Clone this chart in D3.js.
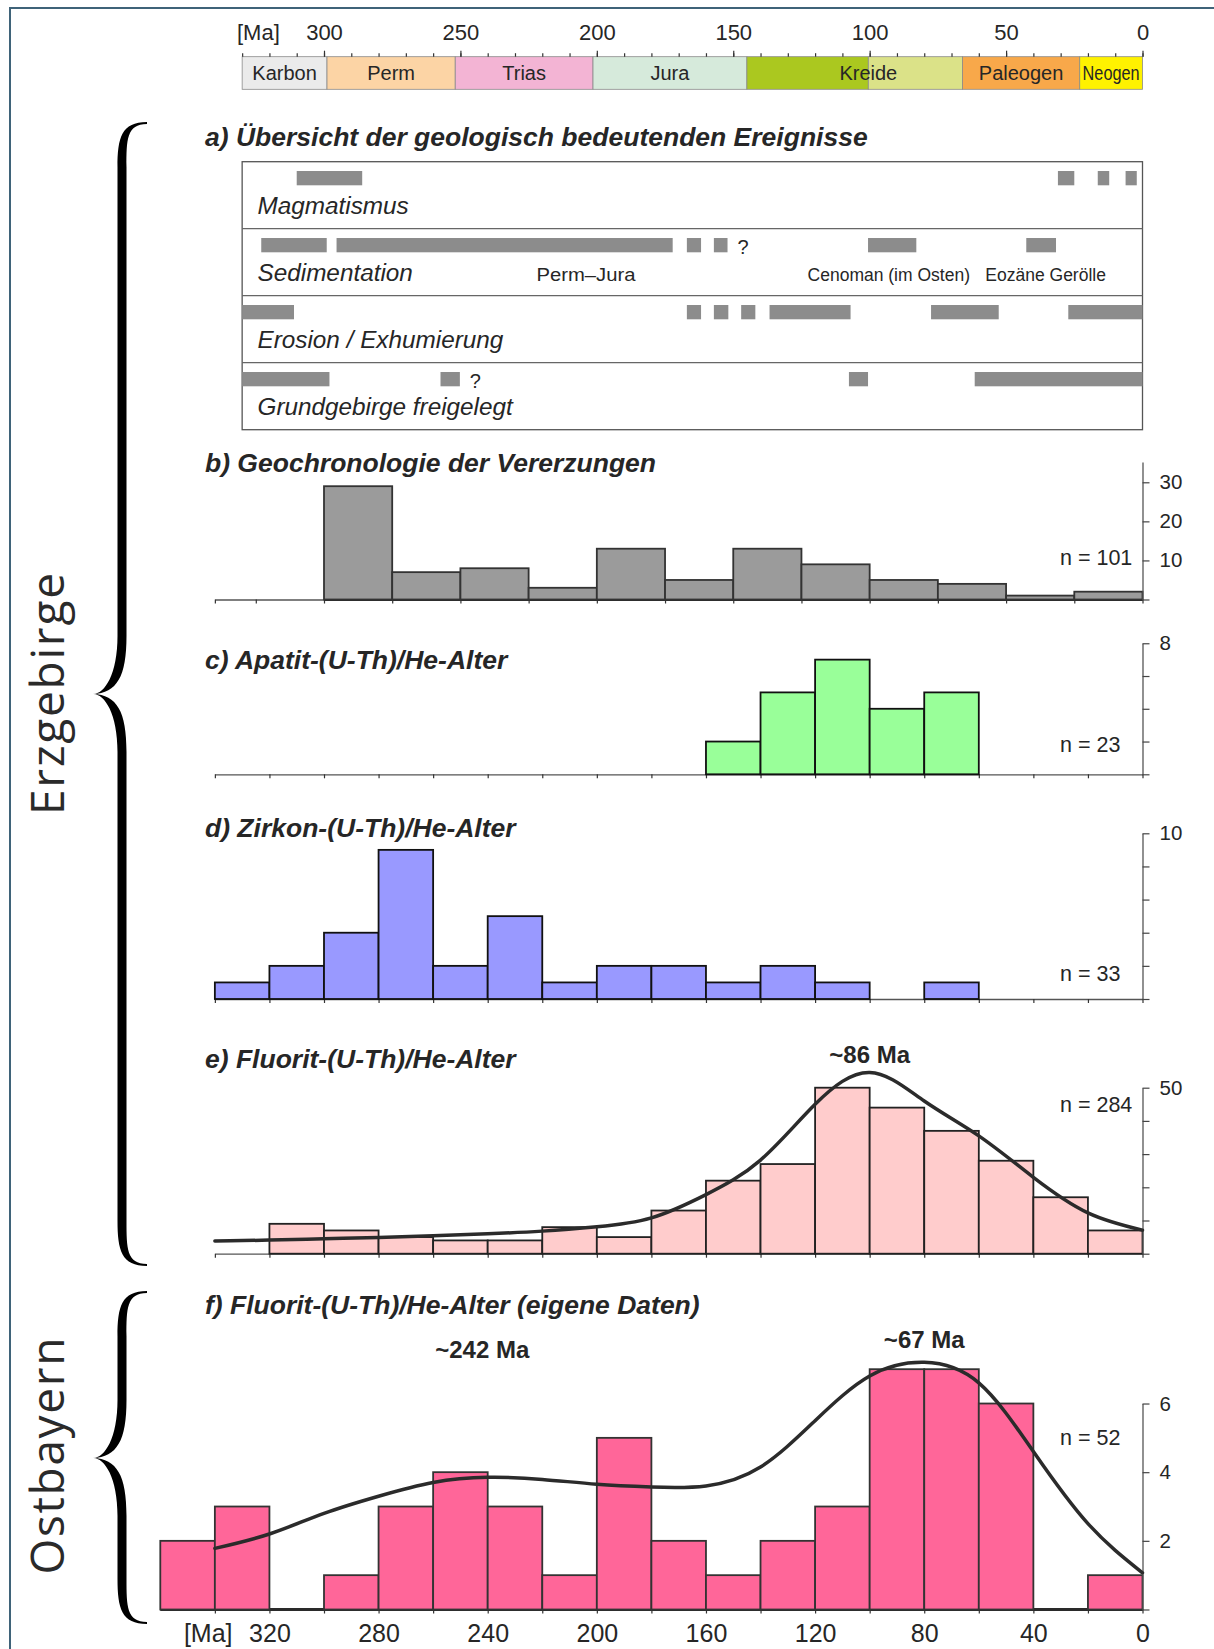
<!DOCTYPE html>
<html>
<head>
<meta charset="utf-8">
<script src="https://cdn.jsdelivr.net/npm/d3@7"></script>
<style>
  body { margin: 0; background: #fff; }
  svg { display: block; font-family: "Liberation Sans", Arial, Helvetica, sans-serif; }
</style>
</head>
<body>
<div id="chart"></div>
<script>
// Zeitskala (Ma)
var periodNames  = ["Karbon", "Perm", "Trias", "Jura", "Unterkreide", "Oberkreide", "Paleogen", "Neogen"];
var periodLabels = ["Karbon", "Perm", "Trias", "Jura", "Kreide", "", "Paleogen", "Neogen"];
var periodOld    = [330, 298.9, 251.9, 201.4, 145, 100.5, 66, 23];
var periodYoung  = [298.9, 251.9, 201.4, 145, 100.5, 66, 23, 0];
var periodColors = ["#ebebeb", "#fcd4a5", "#f3b4d4", "#d6eadb", "#abc81f", "#dbe288", "#f8a84a", "#fff200"];
var timeTicks  = [330, 320, 310, 300, 290, 280, 270, 260, 250, 240, 230, 220, 210, 200, 190, 180, 170, 160, 150, 140, 130, 120, 110, 100, 90, 80, 70, 60, 50, 40, 30, 20, 10, 0];
var timeLabels = [300, 250, 200, 150, 100, 50, 0];

// a) Ereignisse, [von, bis] in Ma
var eventRows     = ["Magmatismus", "Sedimentation", "Erosion / Exhumierung", "Grundgebirge freigelegt"];
var magmatism     = [[310, 286], [31, 25], [16.4, 12.2], [6.2, 2.1]];
var sedimentation = [[323, 299], [295.4, 172.2], [167, 161.8], [157.1, 152.1], [100.6, 82.9], [42.6, 31.7]];
var erosion       = [[330, 311], [167, 161.8], [157.1, 151.8], [147.1, 141.9], [136.7, 107], [77.5, 52.7], [27.2, 0]];
var basement      = [[330, 298], [257.3, 250.2], [107.6, 100.6], [61.5, 0]];
var sedimentNotes    = ["Perm–Jura", "Cenoman (im Osten)", "Eozäne Gerölle"];
var sedimentNoteAges = [204, 93, 35.5];
var uncertainRows = [1, 3];
var uncertainAges = [152.1, 250.2];

// b) Vererzungen, 25-Ma-Klassen
var oreBinStart = [300, 275, 250, 225, 200, 175, 150, 125, 100, 75, 50, 25];
var oreCounts   = [29, 7, 8, 3, 13, 5, 13, 9, 5, 4, 1, 2];

// c) Apatit
var apatiteBinStart = [160, 140, 120, 100, 80];
var apatiteCounts   = [2, 5, 7, 4, 5];

// d) Zirkon
var zirconBinStart = [340, 320, 300, 280, 260, 240, 220, 200, 180, 160, 140, 120, 100, 80];
var zirconCounts   = [1, 2, 4, 9, 2, 5, 1, 2, 2, 1, 2, 1, 0, 1];

// e) Fluorit Erzgebirge
var fluoriteBinStart = [320, 300, 280, 260, 240, 220, 200, 180, 160, 140, 120, 100, 80, 60, 40, 20];
var fluoriteCounts   = [9, 7, 5, 4, 4, 8, 5, 13, 22, 27, 50, 44, 37, 28, 17, 7];
var fluoriteCurveAge = [340, 320, 300, 280, 260, 240, 220, 200, 180, 160, 140, 120, 100, 80, 60, 40, 20, 0];
var fluoriteCurveVal = [3.8, 4.1, 4.5, 4.9, 5.4, 6.0, 6.8, 8.1, 10.8, 17.8, 28.2, 45, 54.6, 46, 35.5, 23, 12.3, 7.1];

// f) Fluorit Ostbayern (eigene Daten)
var ownBinStart = [360, 340, 320, 300, 280, 260, 240, 220, 200, 180, 160, 140, 120, 100, 80, 60, 40, 20];
var ownCounts   = [2, 3, 0, 1, 3, 4, 3, 1, 5, 2, 1, 2, 3, 7, 7, 6, 0, 1];
var ownCurveAge = [340, 320, 300, 280, 260, 240, 220, 200, 180, 160, 140, 120, 100, 80, 60, 40, 20, 0];
var ownCurveVal = [1.78, 2.2, 2.8, 3.3, 3.7, 3.85, 3.79, 3.65, 3.57, 3.6, 4.15, 5.5, 6.8, 7.2, 6.6, 4.6, 2.5, 1.07];
var ownAxisLabels = [320, 280, 240, 200, 160, 120, 80, 40, 0];

var W = 1214, H = 1649;
var x = d3.scaleLinear().domain([0, 300]).range([1142.5, 324]);
var textColor = "#262626";

var svg = d3.select("#chart").append("svg")
    .attr("width", W)
    .attr("height", H);

// Rahmen
svg.append("path")
    .attr("d", "M10," + H + "V8H" + W)
    .attr("fill", "none")
    .attr("stroke", "#3f6379")
    .attr("stroke-width", 2);

drawTimescale();
drawEvents();

var panels = [
  { title: "b) Geochronologie der Vererzungen", titleY: 472, base: 599.5, unit: 3.907, axisMax: 35.2,
    yTicks: [0, 10, 20, 30], yLabels: [10, 20, 30], from: 340, xTicks: [340].concat(d3.range(0, 326, 25)),
    binStart: oreBinStart, binWidth: 25, counts: oreCounts, fill: "#9b9b9b", stroke: "#333",
    n: "n = 101", nY: 565, thickBase: 300 },
  { title: "c) Apatit-(U-Th)/He-Alter", titleY: 669, base: 774.3, unit: 16.38, axisMax: 8,
    yTicks: [0, 2, 4, 6, 8], yLabels: [8], from: 340, xTicks: d3.range(0, 341, 20),
    binStart: apatiteBinStart, binWidth: 20, counts: apatiteCounts, fill: "#99ff99", stroke: "#111",
    n: "n = 23", nY: 751.7 },
  { title: "d) Zirkon-(U-Th)/He-Alter", titleY: 837, base: 999, unit: 16.57, axisMax: 10,
    yTicks: [0, 2, 4, 6, 8, 10], yLabels: [10], from: 340, xTicks: d3.range(0, 341, 20),
    binStart: zirconBinStart, binWidth: 20, counts: zirconCounts, fill: "#9999ff", stroke: "#111",
    n: "n = 33", nY: 980.7 },
  { title: "e) Fluorit-(U-Th)/He-Alter", titleY: 1067.5, base: 1253.7, unit: 3.32, axisMax: 50,
    yTicks: [0, 10, 20, 30, 40, 50], yLabels: [50], from: 340, xTicks: d3.range(0, 341, 20),
    binStart: fluoriteBinStart, binWidth: 20, counts: fluoriteCounts, fill: "#ffcccc", stroke: "#222",
    n: "n = 284", nY: 1111.7, curveAge: fluoriteCurveAge, curveVal: fluoriteCurveVal,
    peaks: ["~86 Ma"], peakAges: [100], peakY: [1063.3] },
  { title: "f) Fluorit-(U-Th)/He-Alter (eigene Daten)", titleY: 1313.5, base: 1609.5, unit: 34.33, axisMax: 6,
    yTicks: [0, 2, 4, 6], yLabels: [2, 4, 6], from: 360, xTicks: d3.range(0, 341, 20),
    binStart: ownBinStart, binWidth: 20, counts: ownCounts, fill: "#ff6699", stroke: "#333",
    n: "n = 52", nY: 1445, curveAge: ownCurveAge, curveVal: ownCurveVal, thickBase: 360,
    peaks: ["~242 Ma", "~67 Ma"], peakAges: [242, 80], peakY: [1358.3, 1348.3], bottomLabels: ownAxisLabels }
];
panels.forEach(drawHistogram);

drawBrace({ tip: 93, spine: 122, end: 147, top: 122, mid: 694, bottom: 1266, w: 9 });
drawBrace({ tip: 93, spine: 122, end: 147, top: 1291, mid: 1458, bottom: 1624, w: 9 });
sideLabel("Erzgebirge", 694, 242);
sideLabel("Ostbayern", 1456, 237);

//Zeitskala oben
function drawTimescale() {
  var g = svg.append("g");
  g.selectAll("rect")
    .data(periodNames)
    .enter()
      .append("rect")
      .attr("x", function(d, i) { return x(periodOld[i]); })
      .attr("width", function(d, i) { return x(periodYoung[i]) - x(periodOld[i]); })
      .attr("y", 56.7)
      .attr("height", 32.6)
      .attr("fill", function(d, i) { return periodColors[i]; })
      .attr("stroke", "#8a8a8a")
      .attr("stroke-width", 0.8);

  g.selectAll("text.period")
    .data(periodLabels)
    .enter()
      .filter(function(d) { return d !== ""; })
      .append("text")
      .attr("class", "period")
      .attr("x", function(d) {
        var i = periodLabels.indexOf(d);
        // Kreide steht über der Grenze Unter-/Oberkreide
        if (d === "Kreide") return x(periodYoung[i]);
        return (x(periodOld[i]) + x(periodYoung[i])) / 2;
      })
      .attr("y", 80)
      .attr("text-anchor", "middle")
      .attr("font-size", 20)
      .attr("fill", textColor)
      .each(function(d) {
        if (d === "Neogen") {
          d3.select(this).attr("textLength", 57).attr("lengthAdjust", "spacingAndGlyphs");
        }
      })
      .text(function(d) { return d; });

  g.append("g")
    .attr("transform", "translate(0,56.7)")
    .call(d3.axisTop(x).tickValues(timeTicks).tickSize(3.5).tickSizeOuter(0).tickFormat(""))
    .call(styleAxis);

  g.append("g")
    .attr("transform", "translate(0,56.7)")
    .call(d3.axisTop(x).tickValues(timeLabels).tickSize(6).tickPadding(10.5).tickSizeOuter(0))
    .call(styleAxis)
    .selectAll("text")
      .attr("font-size", 22);

  g.append("text")
    .attr("x", 237)
    .attr("y", 40)
    .attr("font-size", 22)
    .attr("fill", textColor)
    .text("[Ma]");
}

function styleAxis(g) {
  g.select(".domain").remove();
  g.selectAll(".tick line").attr("stroke", "#333").attr("stroke-width", 1.2);
  g.selectAll(".tick text").attr("fill", textColor).attr("font-family", null);
  g.attr("font-family", null);
}

//a) Übersicht
function drawEvents() {
  var g = svg.append("g");
  var top = 161.7, rowH = 67, left = x(330), right = x(0);
  var rows = [magmatism, sedimentation, erosion, basement];

  g.append("text")
    .attr("x", 205)
    .attr("y", 146)
    .attr("font-size", 26.5)
    .attr("font-weight", "bold")
    .attr("font-style", "italic")
    .attr("fill", textColor)
    .text("a) Übersicht der geologisch bedeutenden Ereignisse");

  g.append("rect")
    .attr("x", left)
    .attr("y", top)
    .attr("width", right - left)
    .attr("height", rowH * rows.length)
    .attr("fill", "none")
    .attr("stroke", "#555")
    .attr("stroke-width", 1.3);

  g.selectAll("line.div")
    .data(d3.range(1, rows.length))
    .enter()
      .append("line")
      .attr("x1", left)
      .attr("x2", right)
      .attr("y1", function(d) { return top + d * rowH; })
      .attr("y2", function(d) { return top + d * rowH; })
      .attr("stroke", "#666")
      .attr("stroke-width", 1.3);

  rows.forEach(function(spans, r) {
    var rowTop = top + r * rowH;
    g.selectAll("rect.ev" + r)
      .data(spans)
      .enter()
        .append("rect")
        .attr("x", function(d) { return x(d[0]); })
        .attr("width", function(d) { return x(d[1]) - x(d[0]); })
        .attr("y", rowTop + 9.3)
        .attr("height", 14.3)
        .attr("fill", "#8c8c8c");

    g.append("text")
      .attr("x", 257.5)
      .attr("y", rowTop + 51.8)
      .attr("font-size", 24.3)
      .attr("font-style", "italic")
      .attr("fill", textColor)
      .text(eventRows[r]);
  });

  g.selectAll("text.note")
    .data(sedimentNotes)
    .enter()
      .append("text")
      .attr("x", function(d, i) { return x(sedimentNoteAges[i]); })
      .attr("y", top + rowH + 51.8)
      .attr("text-anchor", "middle")
      .attr("font-size", 17.5)
      .attr("fill", textColor)
      .each(function(d) {
        if (d === "Perm–Jura") d3.select(this).attr("textLength", 99).attr("lengthAdjust", "spacingAndGlyphs");
      })
      .text(function(d) { return d; });

  g.selectAll("text.q")
    .data(uncertainRows)
    .enter()
      .append("text")
      .attr("x", function(d, i) { return x(uncertainAges[i]) + 10; })
      .attr("y", function(d) { return top + d * rowH + 25; })
      .attr("font-size", 20)
      .attr("fill", textColor)
      .text("?");
}

//Histogramme b) bis f)
function drawHistogram(cfg) {
  var g = svg.append("g");
  var xp = x.copy().domain([cfg.from, 0]).range([x(cfg.from), x(0)]);
  var y = d3.scaleLinear()
    .domain([0, cfg.axisMax])
    .range([cfg.base, cfg.base - cfg.axisMax * cfg.unit]);

  g.append("text")
    .attr("x", 205)
    .attr("y", cfg.titleY)
    .attr("font-size", 26.5)
    .attr("font-weight", "bold")
    .attr("font-style", "italic")
    .attr("fill", textColor)
    .text(cfg.title);

  // x-Achse
  g.append("g")
    .attr("transform", "translate(0," + cfg.base + ")")
    .call(d3.axisBottom(xp).tickValues(cfg.xTicks).tickSize(4).tickSizeOuter(0).tickFormat(""))
    .call(function(a) {
      a.select(".domain").attr("stroke", "#555").attr("stroke-width", 1.3);
      a.selectAll(".tick line").attr("stroke", "#333").attr("stroke-width", 1.2);
    });

  if (cfg.thickBase) {
    g.append("line")
      .attr("x1", xp(cfg.thickBase))
      .attr("x2", xp(0))
      .attr("y1", cfg.base)
      .attr("y2", cfg.base)
      .attr("stroke", "#2a2a2a")
      .attr("stroke-width", 3);
  }

  var bins = cfg.counts
    .map(function(c, i) { return { age: cfg.binStart[i], count: c }; })
    .filter(function(d) { return d.count > 0; });

  g.selectAll("rect.bar")
    .data(bins)
    .enter()
      .append("rect")
      .attr("class", "bar")
      .attr("x", function(d) { return xp(d.age); })
      .attr("width", function(d) { return xp(d.age - cfg.binWidth) - xp(d.age); })
      .attr("y", function(d) { return y(d.count); })
      .attr("height", function(d) { return cfg.base - y(d.count); })
      .attr("fill", cfg.fill)
      .attr("stroke", cfg.stroke)
      .attr("stroke-width", 1.8);

  // y-Achse rechts
  g.append("g")
    .attr("transform", "translate(" + x(0) + ",0)")
    .call(d3.axisRight(y).tickValues(cfg.yTicks).tickSize(7).tickSizeOuter(0).tickPadding(10)
      .tickFormat(function(d) { return cfg.yLabels.indexOf(d) >= 0 ? d : ""; }))
    .call(function(a) {
      a.attr("font-family", null);
      a.select(".domain").attr("stroke", "#555").attr("stroke-width", 1.3);
      a.selectAll(".tick line").attr("stroke", "#444").attr("stroke-width", 1.2);
      a.selectAll(".tick text").attr("font-size", 20.5).attr("fill", textColor);
    });

  g.append("text")
    .attr("x", 1060)
    .attr("y", cfg.nY)
    .attr("font-size", 21.5)
    .attr("fill", textColor)
    .text(cfg.n);

  if (cfg.curveAge) {
    var pts = cfg.curveAge.map(function(a, i) { return { age: a, v: cfg.curveVal[i] }; });
    var line = d3.line()
      .x(function(d) { return xp(d.age); })
      .y(function(d) { return y(d.v); })
      .curve(d3.curveNatural);
    g.append("path")
      .datum(pts)
      .attr("d", line)
      .attr("fill", "none")
      .attr("stroke", "#2b2b2b")
      .attr("stroke-width", 3.5)
      .attr("stroke-linecap", "round");
  }

  if (cfg.peaks) {
    g.selectAll("text.peak")
      .data(cfg.peaks)
      .enter()
        .append("text")
        .attr("x", function(d, i) { return xp(cfg.peakAges[i]); })
        .attr("y", function(d, i) { return cfg.peakY[i]; })
        .attr("text-anchor", "middle")
        .attr("font-size", 24)
        .attr("font-weight", "bold")
        .attr("fill", textColor)
        .text(function(d) { return d; });
  }

  if (cfg.bottomLabels) {
    g.append("g")
      .attr("transform", "translate(0," + cfg.base + ")")
      .call(d3.axisBottom(xp).tickValues(cfg.bottomLabels).tickSize(0).tickPadding(14.5))
      .call(function(a) {
        a.attr("font-family", null);
        a.select(".domain").remove();
        a.selectAll(".tick text").attr("font-size", 25).attr("fill", textColor);
      });
    g.append("text")
      .attr("x", 232.5)
      .attr("y", cfg.base + 32.2)
      .attr("text-anchor", "end")
      .attr("font-size", 25)
      .attr("fill", textColor)
      .text("[Ma]");
  }
}

//geschweifte Klammer links
function drawBrace(b) {
  var xt = b.tip, xs = b.spine, xe = b.end, y0 = b.top, ym = b.mid, y1 = b.bottom, h = b.w / 2;
  var r = 45, rm = 58;
  var p = d3.path();
  p.moveTo(xe, y0);
  p.bezierCurveTo(xs - h + 4, y0, xs - h, y0 + r * 0.35, xs - h, y0 + r);
  p.lineTo(xs - h, ym - rm);
  p.bezierCurveTo(xs - h, ym - rm * 0.35, xt + 12, ym, xt, ym);
  p.bezierCurveTo(xt + 12, ym, xs - h, ym + rm * 0.35, xs - h, ym + rm);
  p.lineTo(xs - h, y1 - r);
  p.bezierCurveTo(xs - h, y1 - r * 0.35, xs - h + 4, y1, xe, y1);
  p.lineTo(xe, y1 - 2);
  p.bezierCurveTo(xs + h, y1 - 2, xs + h, y1 - r * 0.4, xs + h, y1 - r);
  p.lineTo(xs + h, ym + rm);
  p.bezierCurveTo(xs + h, ym + rm * 0.3, xt + 24, ym + 1, xt, ym);
  p.bezierCurveTo(xt + 24, ym - 1, xs + h, ym - rm * 0.3, xs + h, ym - rm);
  p.lineTo(xs + h, y0 + r);
  p.bezierCurveTo(xs + h, y0 + r * 0.4, xs + h, y0 + 2, xe, y0 + 2);
  p.closePath();
  svg.append("path")
    .attr("d", p.toString())
    .attr("fill", "#000");
}

function sideLabel(txt, cy, len) {
  svg.append("text")
    .attr("transform", "translate(64," + cy + ") rotate(-90)")
    .attr("text-anchor", "middle")
    .attr("font-family", "'Open Sans', 'Noto Sans', sans-serif")
    .attr("font-size", 46)
    .attr("fill", "#2a2a2a")
    .attr("textLength", len)
    .attr("lengthAdjust", "spacing")
    .text(txt);
}
</script>
</body>
</html>
